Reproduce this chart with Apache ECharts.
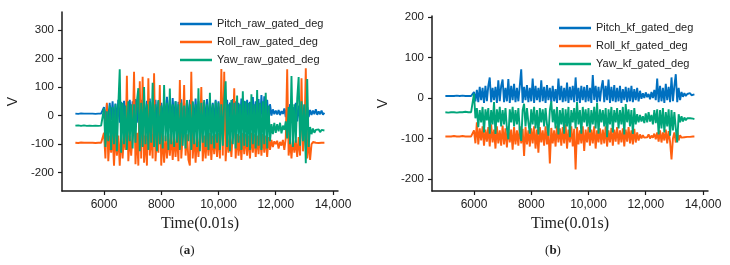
<!DOCTYPE html>
<html>
<head>
<meta charset="utf-8">
<script src="https://cdn.jsdelivr.net/npm/echarts@6/dist/echarts.min.js"></script>
<style>
  html, body { margin: 0; padding: 0; background: #fff; }
  #chart { width: 730px; height: 265px; }
</style>
</head>
<body>
<div id="chart"></div>
<script>
// sampling grid: one sample every 50 time units, 5000 .. 13700
const time = [];
for (let i = 0; i < 175; i++) time.push(5000 + 50 * i);

const xTicks = [6000, 8000, 10000, 12000, 14000];
const yTicksRaw = [-200, -100, 0, 100, 200, 300];
const yTicksKf = [-200, -100, 0, 100, 200];

const rawNames = ["Pitch_raw_gated_deg", "Roll_raw_gated_deg", "Yaw_raw_gated_deg"];
const kfNames = ["Pitch_kf_gated_deg", "Roll_kf_gated_deg", "Yaw_kf_gated_deg"];

// (a) raw
const pitchRaw = [
  7,7,6,7,8,7,7,6,7,7,
  7,8,7,7,6,7,7,8,7,7,
  30,-20,40,-25,45,-15,50,-30,42,-20,
  55,-25,48,-30,52,-20,45,-28,55,-22,
  50,-30,58,-25,45,-20,55,-30,48,-25,
  52,-28,60,-22,47,-30,55,-25,50,-20,
  45,-25,58,-30,66,-20,55,-28,62,-25,
  50,-30,48,-22,57,-28,45,-25,52,-30,
  55,-20,47,-28,60,-25,50,-30,56,-22,
  48,-25,58,-30,52,-20,45,-28,55,-25,
  50,-30,62,-22,48,-28,55,-25,46,-30,
  58,-20,50,-28,45,-25,60,-30,52,-22,
  55,-25,48,-30,65,-20,50,-28,58,-25,
  72,-22,68,-25,55,-20,40,0,22,5,
  18,4,20,2,16,6,25,-5,35,-10,
  40,-15,30,-10,45,-20,35,-15,42,-10,
  38,-20,30,-5,20,2,18,5,22,3,
  15,5,18,3,10
];
const rollRaw = [
  -95,-95,-96,-95,-94,-95,-95,-96,-95,-95,
  -95,-94,-95,-95,-96,-95,-95,-94,-95,-95,
  -60,-150,45,-160,-70,-130,-65,-175,-60,-140,
  -70,-175,-60,-150,-65,-120,140,-160,-70,-140,
  -65,154,-170,-60,-175,120,-150,136,-165,-70,
  -175,131,-140,-65,-150,148,-160,-70,-130,107,
  -175,-60,-165,-70,-150,-65,-140,-60,-155,-70,
  -145,-65,-160,125,-150,-70,107,-140,-65,-155,
  -175,154,-150,-60,-165,-70,-145,-65,100,-160,
  -70,-150,-65,-140,-60,-155,-70,-135,-65,-145,
  -60,-150,163,-140,154,-160,-65,-130,-70,-145,
  -60,96,-150,-65,-140,-70,-155,-60,-135,-65,
  -140,-70,-150,-60,-130,-65,-145,-70,-135,-60,
  -140,-65,-130,-70,-145,-75,-120,-85,-110,-90,
  -100,-88,-115,-92,-105,-85,-120,-80,162,-140,
  -90,-150,-80,-130,-85,-145,-75,-140,131,-125,
  -80,166,-150,-85,-155,-100,-92,-98,-95,-93,
  -96,-94,-95,-97,-95
];
const yawRaw = [
  -35,-36,-34,-35,-36,-35,-34,-35,-36,-35,
  -35,-34,-36,-35,-35,-34,-36,-35,-35,-34,
  25,-110,15,-90,35,-120,30,-100,40,-125,
  35,162,-130,45,-100,35,-120,50,-90,40,
  -115,40,-95,50,96,-125,45,-110,100,-100,
  40,-120,50,-95,115,-110,40,-125,55,-100,
  35,-115,107,-90,45,-120,95,-100,40,-110,
  50,-95,40,-120,45,-105,35,-115,55,-90,
  40,-120,50,-100,40,-110,96,-125,45,-95,
  55,-110,40,-120,80,-100,40,-115,50,-95,
  45,-120,40,-105,50,120,-110,40,-125,55,
  -100,45,-115,70,-95,40,-120,85,-105,50,
  -110,45,-120,75,-100,40,-115,90,-105,45,
  -120,50,-100,80,-115,35,-90,-30,-65,-25,
  -60,-30,-55,-25,-62,-35,-50,-20,-80,30,
  -100,139,-110,40,-95,60,135,-105,50,-90,
  40,-167,128,-110,-40,-65,-45,-60,-50,-55,
  -48,-58,-50,-55,-52
];

// (b) kalman filtered
const pitchKf = [
  5,5,5,6,5,5,5,5,6,5,
  5,5,6,5,5,5,5,6,5,5,
  15,-8,20,-10,28,-5,25,-12,30,-8,
  30,51,-10,25,-5,28,-12,44,-8,30,
  46,-10,25,-8,47,-12,30,-5,35,-10,
  25,-8,30,71,-12,28,-5,32,-10,25,
  -8,48,-12,30,-5,25,-10,44,-8,28,
  -12,32,-5,25,-10,30,-8,22,-12,48,
  -5,30,-10,25,-8,38,-12,28,-5,30,
  -10,51,-8,25,-12,30,-5,28,-10,32,
  -8,25,-12,57,-5,30,-10,28,-8,25,
  44,-10,30,-5,46,-12,28,-8,32,-10,
  25,-8,30,-12,22,-5,28,-10,25,-8,
  30,-10,22,-5,25,-8,18,-2,12,0,
  14,2,10,-3,15,0,20,-5,48,-10,
  30,-8,25,-12,35,-5,28,-10,51,-8,
  30,59,-10,25,-5,15,3,12,5,10,
  8,12,7,11,9
];
const rollKf = [
  -95,-95,-95,-96,-95,-95,-94,-95,-95,-95,
  -95,-95,-94,-95,-95,-96,-95,-95,-95,-94,
  -80,-112,-60,-115,-75,-105,-70,-118,-78,-108,
  -72,-120,-65,-110,-78,-125,-70,-112,-80,-118,
  -68,-115,-75,-122,-70,-110,-78,-128,-72,-115,
  -80,-118,-70,-112,-76,-143,-72,-115,-80,-120,
  -75,-112,-70,-125,-78,-135,-72,-110,-80,-118,
  -70,-115,-78,-162,-74,-112,-80,-120,-68,-110,
  -75,-118,-72,-112,-65,-125,-78,-110,-70,-120,
  -76,-177,-72,-115,-80,-112,-70,-131,-78,-110,
  -72,-118,-78,-112,-70,-125,-80,-110,-75,-115,
  -78,-112,-70,-120,-80,-110,-74,-118,-78,-108,
  -72,-115,-80,-110,-75,-120,-78,-108,-72,-112,
  -80,-115,-76,-110,-85,-105,-90,-100,-92,-98,
  -94,-97,-90,-100,-93,-98,-88,-102,-85,-108,
  -80,-110,-85,-105,-78,-112,-82,-108,-152,-100,
  -85,-110,-80,-105,-92,-98,-94,-97,-95,-96,
  -94,-96,-95,-95,-95
];
const yawKf = [
  -35,-35,-36,-35,-35,-34,-35,-35,-36,-35,
  -35,-36,-35,-35,-34,-35,-35,-36,-35,-35,
  11,-50,-25,-72,-30,-60,-22,-85,-28,-55,
  -25,-88,-30,-65,-10,-89,-28,-60,-22,-70,
  -30,-65,-25,-75,-102,-28,-60,-22,-70,-30,
  -65,-25,-80,-106,-30,-14,-70,-25,-60,-88,
  -28,-65,-22,-75,-30,-90,-25,-60,-28,-70,
  -25,-65,-93,-30,-8,-60,-28,-75,-22,-90,
  -30,-65,-25,-88,-28,-70,-22,-97,-30,-60,
  -25,-75,-10,-65,-30,-88,-22,-60,-28,-70,
  -25,-85,-30,-65,-22,-75,-12,-88,-28,-60,
  -30,-70,-25,-97,-28,-65,-22,-85,-30,-60,
  -25,-75,-30,-65,-22,-90,-15,-60,-28,-70,
  -30,-89,-25,-65,-40,-60,-42,-58,-45,-62,
  -38,-60,-35,-58,-42,-65,-30,-62,-28,-90,
  -30,-75,-25,-85,-35,-70,-28,-93,-30,-80,
  -35,-75,-110,-40,-60,-45,-58,-48,-55,-50,
  -54,-50,-53,-51,-52
];

const colors = ["#0070c0", "#ff6010", "#00a57a"];
const axisColor = "#1a1a1a";

function pairs(vals) {
  return vals.map((v, i) => [time[i], v]);
}

function xAxisOf(idx) {
  return {
    gridIndex: idx,
    type: "value",
    min: 4533,
    max: 14175,
    name: "Time(0.01s)",
    nameLocation: "middle",
    nameGap: 20,
    nameTextStyle: { fontFamily: "Liberation Serif", fontSize: 16, color: "#222" },
    splitLine: { show: false },
    axisLine: { onZero: false, lineStyle: { color: axisColor, width: 1.5 } },
    axisTick: { customValues: xTicks, length: 4, lineStyle: { color: axisColor, width: 1.2 } },
    axisLabel: {
      customValues: xTicks,
      margin: 8,
      fontFamily: "Liberation Sans",
      fontSize: 12,
      color: "#222",
      formatter: v => (v >= 10000 ? v.toLocaleString("en-US") : String(v))
    }
  };
}

function yAxisOf(idx, min, max, ticks) {
  return {
    gridIndex: idx,
    type: "value",
    min: min,
    max: max,
    name: "V",
    nameLocation: "middle",
    nameGap: 42,
    nameRotate: 90,
    nameTextStyle: { fontFamily: "Liberation Sans", fontSize: 14, color: "#222" },
    splitLine: { show: false },
    axisLine: { show: true, lineStyle: { color: axisColor, width: 1.5 } },
    axisTick: { show: true, customValues: ticks, length: 4, lineStyle: { color: axisColor, width: 1.2 } },
    axisLabel: {
      customValues: ticks,
      margin: 8,
      fontFamily: "Liberation Sans",
      fontSize: 11.5,
      color: "#222"
    }
  };
}

function lineSeries(name, vals, color, idx) {
  return {
    name: name,
    type: "line",
    xAxisIndex: idx,
    yAxisIndex: idx,
    data: pairs(vals),
    showSymbol: false,
    symbol: "none",
    color: color,
    lineStyle: { color: color, width: 1.9 },
    silent: true
  };
}

function legendOf(names, left, top) {
  return {
    data: names,
    orient: "vertical",
    left: left,
    top: top,
    icon: "rect",
    itemWidth: 32,
    itemHeight: 2.5,
    itemGap: 4,
    padding: 0,
    selectedMode: false,
    textStyle: { fontFamily: "Liberation Sans", fontSize: 11, color: "#222", lineHeight: 14 }
  };
}

const chart = echarts.init(document.getElementById("chart"), null, { renderer: "canvas" });
chart.setOption({
  animation: false,
  backgroundColor: "#fff",
  grid: [
    { left: 62, top: 12, width: 276, height: 179 },
    { left: 432, top: 16, width: 276, height: 175 }
  ],
  xAxis: [xAxisOf(0), xAxisOf(1)],
  yAxis: [yAxisOf(0, -264, 363, yTicksRaw), yAxisOf(1, -230, 203, yTicksKf)],
  legend: [legendOf(rawNames, 180, 17), legendOf(kfNames, 559, 21)],
  series: [
    lineSeries(rawNames[0], pitchRaw, colors[0], 0),
    lineSeries(rawNames[1], rollRaw, colors[1], 0),
    lineSeries(rawNames[2], yawRaw, colors[2], 0),
    lineSeries(kfNames[0], pitchKf, colors[0], 1),
    lineSeries(kfNames[1], rollKf, colors[1], 1),
    lineSeries(kfNames[2], yawKf, colors[2], 1)
  ],
  graphic: [
    {
      type: "text", x: 187, y: 251,
      style: {
        text: "({a|a})", textAlign: "center", textVerticalAlign: "middle",
        fontFamily: "Liberation Serif", fontSize: 13, fill: "#222",
        rich: { a: { fontFamily: "Liberation Serif", fontSize: 13, fontWeight: "bold", fill: "#222" } }
      }
    },
    {
      type: "text", x: 553, y: 251,
      style: {
        text: "({a|b})", textAlign: "center", textVerticalAlign: "middle",
        fontFamily: "Liberation Serif", fontSize: 13, fill: "#222",
        rich: { a: { fontFamily: "Liberation Serif", fontSize: 13, fontWeight: "bold", fill: "#222" } }
      }
    }
  ]
});
</script>
</body>
</html>
